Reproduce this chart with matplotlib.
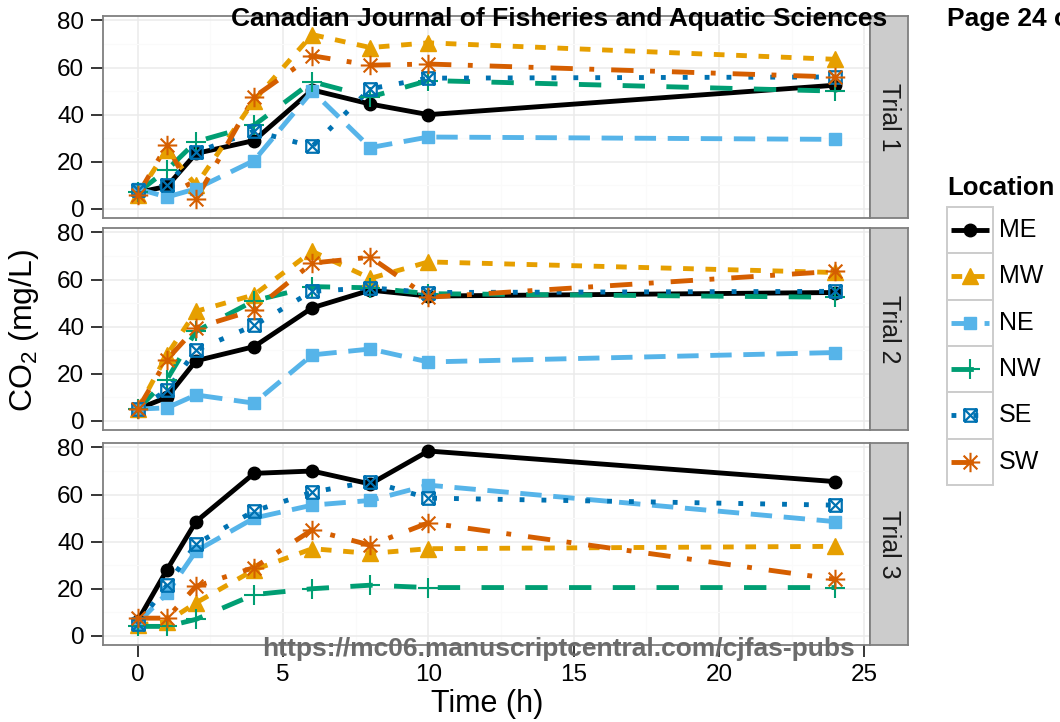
import numpy as np
import matplotlib
matplotlib.use('Agg')
import matplotlib.pyplot as plt
from matplotlib.path import Path
from matplotlib.lines import Line2D
from matplotlib.patches import Rectangle

plt.rcParams['font.family'] = ['Liberation Sans', 'DejaVu Sans']
plt.rcParams['mathtext.fontset'] = 'custom'
plt.rcParams['mathtext.rm'] = 'Liberation Sans'

# Data
hours = [0, 1, 2, 4, 6, 8, 10, 24]
locations = ['ME', 'MW', 'NE', 'NW', 'SE', 'SW']
trial_names = ['Trial 1', 'Trial 2', 'Trial 3']

trial1 = {
    'ME': [7, 9.5, 23.5, 29, 50.5, 44.5, 40, 52.5],
    'MW': [6, 25, 10, 46, 74, 68.5, 70.5, 63.5],
    'NE': [8.5, 5, 8.5, 20.5, 50, 26, 30.5, 29.5],
    'NW': [7, 16.5, 28.5, 35.5, 54, 47.5, 54.5, 50],
    'SE': [8, 10, 24, 33, 26.5, 51, 55.5, 56],
    'SW': [6, 27, 4, 47.5, 65, 61, 61.5, 56],
}
trial2 = {
    'ME': [5, 10, 25.5, 31.5, 48, 55.5, 53, 54.5],
    'MW': [5, 28, 46.5, 53.5, 72, 60.5, 67.5, 63],
    'NE': [5, 5.5, 11, 7.5, 28, 30.5, 25, 29],
    'NW': [5, 17.5, 38, 51, 57, 56.5, 54, 52.5],
    'SE': [5, 13, 30, 40.5, 55, 56.5, 54.5, 55],
    'SW': [5, 26, 39.5, 47, 67, 69.5, 52.5, 63.5],
}
trial3 = {
    'ME': [6.5, 28, 48.5, 69, 70, 64.5, 78.5, 65.5],
    'MW': [4.5, 6, 14, 28, 37, 35, 37, 38],
    'NE': [5.5, 18, 36, 50, 55.5, 57.5, 64, 48.5],
    'NW': [4, 4, 7, 17.5, 20, 21.5, 20.5, 20.5],
    'SE': [5, 21.5, 39, 53, 61, 65.5, 58.5, 55.5],
    'SW': [7.5, 7.5, 21, 29, 45, 38.5, 48, 24],
}
trials = [trial1, trial2, trial3]

# Styles
colors = {'ME': '#000000', 'MW': '#E69F00', 'NE': '#56B4E9',
          'NW': '#009E73', 'SE': '#0072B2', 'SW': '#D55E00'}
dashes = {'ME': None, 'MW': (2.2, 2.4), 'NE': (4.4, 2.4),
          'NW': (4.6, 4.4), 'SE': (1.0, 3.5), 'SW': (4.6, 3.4, 1.0, 3.5)}

M, L = Path.MOVETO, Path.LINETO
boxx = Path([(-1, -1), (1, -1), (1, 1), (-1, 1), (-1, -1),
             (-1, -1), (1, 1), (-1, 1), (1, -1)],
            [M, L, L, L, L, M, L, M, L])
c = 0.707
aster = Path([(0, -1), (0, 1), (-1, 0), (1, 0), (-c, -c), (c, c), (-c, c), (c, -c)],
             [M, L, M, L, M, L, M, L])
markers = {'ME': dict(marker='o', ms=9),
           'MW': dict(marker='^', ms=11),
           'NE': dict(marker='s', ms=9),
           'NW': dict(marker='+', ms=14, mew=1.5),
           'SE': dict(marker=boxx, ms=9, mew=1.6, mfc='none'),
           'SW': dict(marker=aster, ms=14, mew=1.5, mfc='none')}

lw = 3.5
bg_grid_major = '#EBEBEB'
bg_grid_minor = '#FAFAFA'
border = '#7F7F7F'

fig = plt.figure(figsize=(10.6, 7.22), dpi=100)
W, H = 1060.0, 722.0
panel_px = [(16, 218), (228, 430), (443, 645)]
left_px, right_px, strip_px = 103, 870, 908

axes = []
for i, (top, bot) in enumerate(panel_px):
    ax = fig.add_axes([left_px / W, 1 - bot / H, (right_px - left_px) / W, (bot - top) / H])
    data = trials[i]
    for loc in locations:
        ln, = ax.plot(hours, data[loc], color=colors[loc], lw=lw, zorder=2,
                      solid_capstyle='butt')
        if dashes[loc] is not None:
            ln.set_dashes(dashes[loc])
    for loc in locations:
        kw = dict(markers[loc])
        kw.setdefault('mfc', colors[loc])
        ax.plot(hours, data[loc], ls='none', color=colors[loc], mec=colors[loc],
                zorder=3, **kw)
    ax.set_xlim(-1.2, 25.2)
    ax.set_ylim(-3.9, 81.9)
    ax.set_xticks([0, 5, 10, 15, 20, 25])
    ax.set_xticks([2.5, 7.5, 12.5, 17.5, 22.5], minor=True)
    ax.set_yticks([0, 20, 40, 60, 80])
    ax.set_yticks([10, 30, 50, 70], minor=True)
    ax.grid(which='major', color=bg_grid_major, lw=1.1)
    ax.grid(which='minor', color=bg_grid_minor, lw=0.8)
    ax.set_axisbelow(True)
    for sp in ax.spines.values():
        sp.set_color(border)
        sp.set_linewidth(1.3)
    ax.tick_params(axis='both', which='major', length=8.5, width=1.1, color='black',
                   labelsize=17.5, labelcolor='black', pad=5)
    ax.tick_params(which='minor', length=0)
    if i < 2:
        ax.tick_params(axis='x', labelbottom=False, length=0)
    axes.append(ax)

    # strip
    sax = fig.add_axes([right_px / W, 1 - bot / H, (strip_px - right_px) / W, (bot - top) / H])
    sax.set_facecolor('#CCCCCC')
    sax.set_xticks([])
    sax.set_yticks([])
    for sp in sax.spines.values():
        sp.set_color(border)
        sp.set_linewidth(1.3)
    sax.text(0.5, 0.5, trial_names[i], rotation=-90, ha='center', va='center',
             fontsize=18, color='#1A1A1A', transform=sax.transAxes)

fig.text(487 / W, 1 - 704 / H, 'Time (h)', ha='center', va='center', fontsize=22)
fig.text(24 / W, 1 - 330 / H, r'CO$_2$ (mg/L)', rotation=90, ha='center', va='center',
         fontsize=23)

# legend
fig.text(947 / W, 1 - 188 / H, 'Location', fontsize=18.5, fontweight='bold',
         ha='left', va='center')
lax = fig.add_axes([0, 0, 1, 1], facecolor='none')
lax.set_xlim(0, W)
lax.set_ylim(H, 0)
lax.axis('off')
key_top, key_h = 207, 46.3
for k, loc in enumerate(locations):
    y0 = key_top + k * key_h
    lax.add_patch(Rectangle((947, y0), 46, key_h, facecolor='white',
                            edgecolor='#CCCCCC', lw=1.4))
    yc = y0 + key_h / 2
    ln = Line2D([951, 989], [yc, yc], color=colors[loc], lw=lw, solid_capstyle='butt')
    if dashes[loc] is not None:
        ln.set_dashes(dashes[loc])
    lax.add_line(ln)
    kw = dict(markers[loc])
    kw.setdefault('mfc', colors[loc])
    lax.add_line(Line2D([970], [yc], ls='none', color=colors[loc], mec=colors[loc], **kw))
    lax.text(999, yc, loc, fontsize=18, ha='left', va='center')

# manuscript overlay text
fig.text(559 / W, 1 - 19 / H, 'Canadian Journal of Fisheries and Aquatic Sciences',
         fontsize=19, fontweight='bold', ha='center', va='center')
fig.text(947 / W, 1 - 19 / H, 'Page 24 of 30', fontsize=19, fontweight='bold',
         ha='left', va='center')
fig.text(558 / W, 1 - 649 / H, 'https://mc06.manuscriptcentral.com/cjfas-pubs',
         fontsize=19, fontweight='bold', color='#6B6B6B', ha='center', va='center')

fig.savefig('out.png', dpi=100)
